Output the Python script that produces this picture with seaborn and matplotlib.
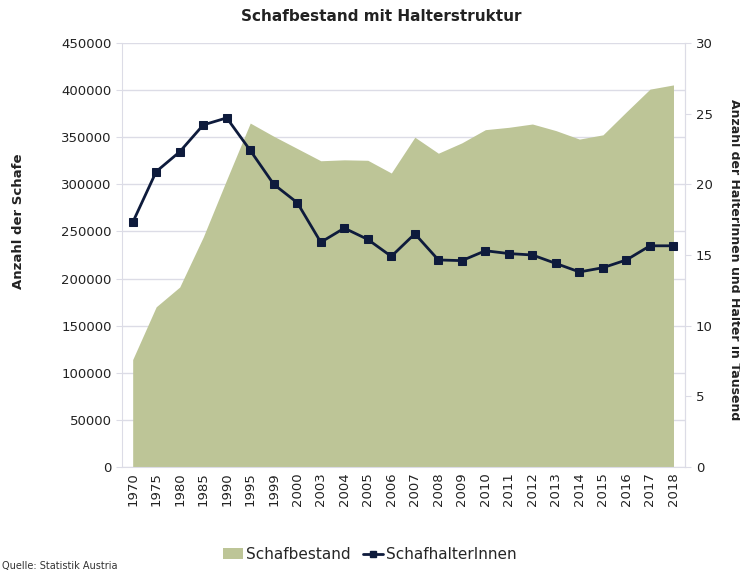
import numpy as np
import pandas as pd
import matplotlib.pyplot as plt
from matplotlib.patches import Patch
from matplotlib.lines import Line2D
import seaborn as sns

sns.set_style("white")
plt.rcParams['font.family'] = ['DejaVu Sans']

years = ['1970', '1975', '1980', '1985', '1990', '1995', '1999', '2000', '2003', '2004',
         '2005', '2006', '2007', '2008', '2009', '2010', '2011', '2012', '2013', '2014',
         '2015', '2016', '2017', '2018']
# Schafbestand (Anzahl)
schafe = [114000, 170000, 191000, 244000, 305000, 365000, 351000, 338000, 325000, 326000,
          325500, 312000, 350000, 333000, 344000, 358000, 360500, 364000, 357000, 348000,
          352500, 377000, 401000, 405500]
# SchafhalterInnen in Tausend
halter = [17.3, 20.9, 22.3, 24.2, 24.7, 22.4, 20.0, 18.7, 15.9, 16.9,
          16.1, 14.9, 16.5, 14.65, 14.6, 15.3, 15.1, 15.0, 14.4, 13.8,
          14.1, 14.65, 15.65, 15.65]

df = pd.DataFrame({'Jahr': years, 'Schafbestand': schafe, 'SchafhalterInnen': halter})
df['pos'] = np.arange(len(df))

area_col = '#bdc597'
line_col = '#0e1b3c'
grid_col = '#dcdce6'
text_col = '#222222'

fig = plt.figure(figsize=(7.4, 5.73), dpi=100)
ax = fig.add_axes([0.165, 0.185, 0.761, 0.74])

ax.fill_between(df['pos'], 0, df['Schafbestand'], color=area_col, linewidth=0, zorder=2)
ax.set_ylim(0, 450000)
ax.set_yticks(np.arange(0, 450001, 50000))
ax.set_xlim(-0.45, len(df) - 0.5)
ax.set_xticks(df['pos'])
ax.set_xticklabels(df['Jahr'], rotation=90, fontsize=9.5, color=text_col)
ax.tick_params(axis='y', labelsize=9.5, colors=text_col, length=4, color=grid_col)
ax.tick_params(axis='x', length=0, pad=4)
ax.yaxis.grid(True, color=grid_col, linewidth=1, zorder=0)
ax.set_axisbelow(True)
ax.spines['top'].set_visible(False)
for s in ['left', 'right', 'bottom']:
    ax.spines[s].set_color(grid_col)
ax.set_ylabel('Anzahl der Schafe', fontsize=9.5, fontweight='bold', color=text_col)
ax.yaxis.set_label_coords(-0.172, 0.58)

ax2 = ax.twinx()
sns.lineplot(data=df, x='pos', y='SchafhalterInnen', ax=ax2, color=line_col,
             marker='s', markersize=6, markeredgecolor=line_col, linewidth=2.0, legend=False)
ax2.set_ylim(0, 30)
ax2.set_yticks(np.arange(0, 31, 5))
ax2.set_xlim(-0.45, len(df) - 0.5)
ax2.tick_params(axis='y', labelsize=9.5, colors=text_col, length=4, color=grid_col)
ax2.set_xlabel('')
for s in ['top', 'left', 'bottom']:
    ax2.spines[s].set_visible(False)
ax2.spines['right'].set_color(grid_col)
ax2.set_ylabel('Anzahl der HalterInnen und Halter in Tausend', fontsize=9, fontweight='bold',
               color=text_col, rotation=270, va='center')
ax2.yaxis.set_label_coords(1.087, 0.49)

fig.suptitle('Schafbestand mit Halterstruktur', x=0.515, y=0.985, fontsize=11, fontweight='bold',
             color=text_col)

handles = [Patch(facecolor=area_col, edgecolor='none', label='Schafbestand'),
           Line2D([0], [0], color=line_col, marker='s', markersize=4, linewidth=2, label='SchafhalterInnen')]
fig.legend(handles=handles, loc='lower center', bbox_to_anchor=(0.5, -0.005), ncol=2, frameon=False,
           fontsize=11, handlelength=1.3, columnspacing=0.8, handletextpad=0.2)

fig.text(0.003, 0.004, 'Quelle: Statistik Austria', fontsize=7, color='#333333', va='bottom')

fig.savefig('out.png', dpi=100)
